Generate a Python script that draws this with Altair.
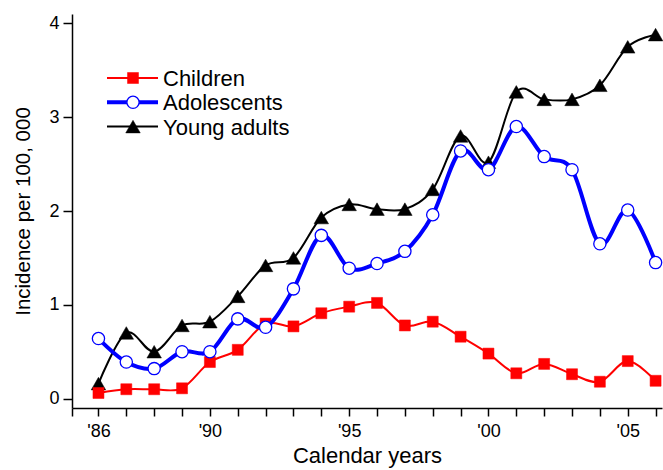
import altair as alt
import pandas as pd

# Incidence per 100,000 by age group, 1986-2006
years = list(range(1986, 2007))
children = [0.06, 0.10, 0.10, 0.11, 0.39, 0.52, 0.80, 0.77, 0.91, 0.98, 1.02,
            0.78, 0.82, 0.66, 0.48, 0.27, 0.37, 0.26, 0.18, 0.40, 0.19]
adolescents = [0.64, 0.39, 0.32, 0.50, 0.50, 0.85, 0.76, 1.17, 1.74, 1.39, 1.44,
               1.57, 1.96, 2.64, 2.44, 2.90, 2.58, 2.44, 1.65, 2.01, 1.45]
young_adults = [0.16, 0.70, 0.50, 0.78, 0.82, 1.09, 1.42, 1.50, 1.93, 2.07, 2.02,
                2.02, 2.23, 2.80, 2.52, 3.27, 3.19, 3.19, 3.34, 3.75, 3.88]

series_names = ["Children", "Adolescents", "Young adults"]
series_values = [children, adolescents, young_adults]

tick_years = [1986, 1990, 1995, 2000, 2005]
tick_labels = ["'86", "'90", "'95", "'00", "'05"]
y_ticks = [0, 1, 2, 3, 4]

FONT = "Liberation Sans"
X_DOMAIN = [1985.05, 2006.23]
Y_DOMAIN = [-0.1, 4.1]

# per-series look: line colour/width and marker
styles = {
    "Children": dict(color="#ff0000", width=2, shape="square", size=121,
                     fill="#ff0000", stroke_w=0.5),
    "Adolescents": dict(color="#0000ff", width=4, shape="circle", size=150,
                        fill="#ffffff", stroke_w=1.3),
    "Young adults": dict(color="#000000", width=2, shape="triangle-up", size=210,
                         fill="#000000", stroke_w=0.5),
}

# label expression: only selected years get a "'yy" label
label_expr = "".join(
    f"datum.value == {y} ? \"{l}\" : " for y, l in zip(tick_years, tick_labels)
) + "''"

x_enc = alt.X(
    "year:Q",
    scale=alt.Scale(domain=X_DOMAIN, nice=False, zero=False),
    axis=alt.Axis(
        values=[X_DOMAIN[0]] + years,
        labelExpr=label_expr,
        title="Calendar years",
        tickSize=8,
        labelPadding=6,
        labelFontSize=18,
        titleFontSize=22,
        titleFontWeight="normal",
        titlePadding=5,
        labelFlush=False,
        labelOverlap=False,
    ),
)
y_enc = alt.Y(
    "value:Q",
    scale=alt.Scale(domain=Y_DOMAIN, nice=False, zero=False),
    axis=alt.Axis(
        values=y_ticks,
        format="d",
        title="Incidence per 100, 000",
        tickSize=9,
        labelPadding=4,
        labelFontSize=18,
        titleFontSize=20.5,
        titleFontWeight="normal",
        titlePadding=15,
        labelFlush=False,
    ),
)

layers = []
draw_order = ["Young adults", "Children", "Adolescents"]
for name in draw_order:
    vals = series_values[series_names.index(name)]
    st = styles[name]
    df = pd.DataFrame({"year": years, "value": vals, "series": name})
    base = alt.Chart(df)
    line = base.mark_line(
        color=st["color"], strokeWidth=st["width"], interpolate="cardinal"
    ).encode(x=x_enc, y=y_enc)
    pts = base.mark_point(
        shape=st["shape"], size=st["size"], filled=True, fill=st["fill"],
        stroke=st["color"], strokeWidth=st["stroke_w"], opacity=1,
        fillOpacity=1, strokeOpacity=1,
    ).encode(x=x_enc, y=y_enc)
    layers += [line, pts]

# legend drawn inside the plot, top-left
for i, name in enumerate(series_names):
    st = styles[name]
    row_y = 64 + i * 24.3
    ldf = pd.DataFrame({"series": [name]})
    lb = alt.Chart(ldf)
    layers.append(
        lb.mark_rule(color=st["color"], strokeWidth=st["width"]).encode(
            x=alt.value(35), x2=alt.value(86), y=alt.value(row_y)
        )
    )
    layers.append(
        lb.mark_point(
            shape=st["shape"], size=st["size"], filled=True, fill=st["fill"],
            stroke=st["color"], strokeWidth=st["stroke_w"], opacity=1,
        ).encode(x=alt.value(61), y=alt.value(row_y))
    )
    layers.append(
        lb.mark_text(
            align="left", baseline="middle", font=FONT, fontSize=22, color="#000000"
        ).encode(x=alt.value(91), y=alt.value(row_y + 1), text="series:N")
    )

chart = (
    alt.layer(*layers)
    .properties(
        width=590,
        height=394,
        autosize=alt.AutoSizeParams(type="none"),
        padding={"left": 72, "top": 14, "right": 1, "bottom": 62},
        background="#ffffff",
    )
    .configure_view(stroke=None)
    .configure_axis(
        grid=False,
        domainColor="#000000",
        domainWidth=1.5,
        tickColor="#000000",
        tickWidth=1.5,
        labelColor="#000000",
        titleColor="#000000",
        labelFont=FONT,
        titleFont=FONT,
    )
)

chart.save("out.html", embed_options={"renderer": "svg", "actions": False})
